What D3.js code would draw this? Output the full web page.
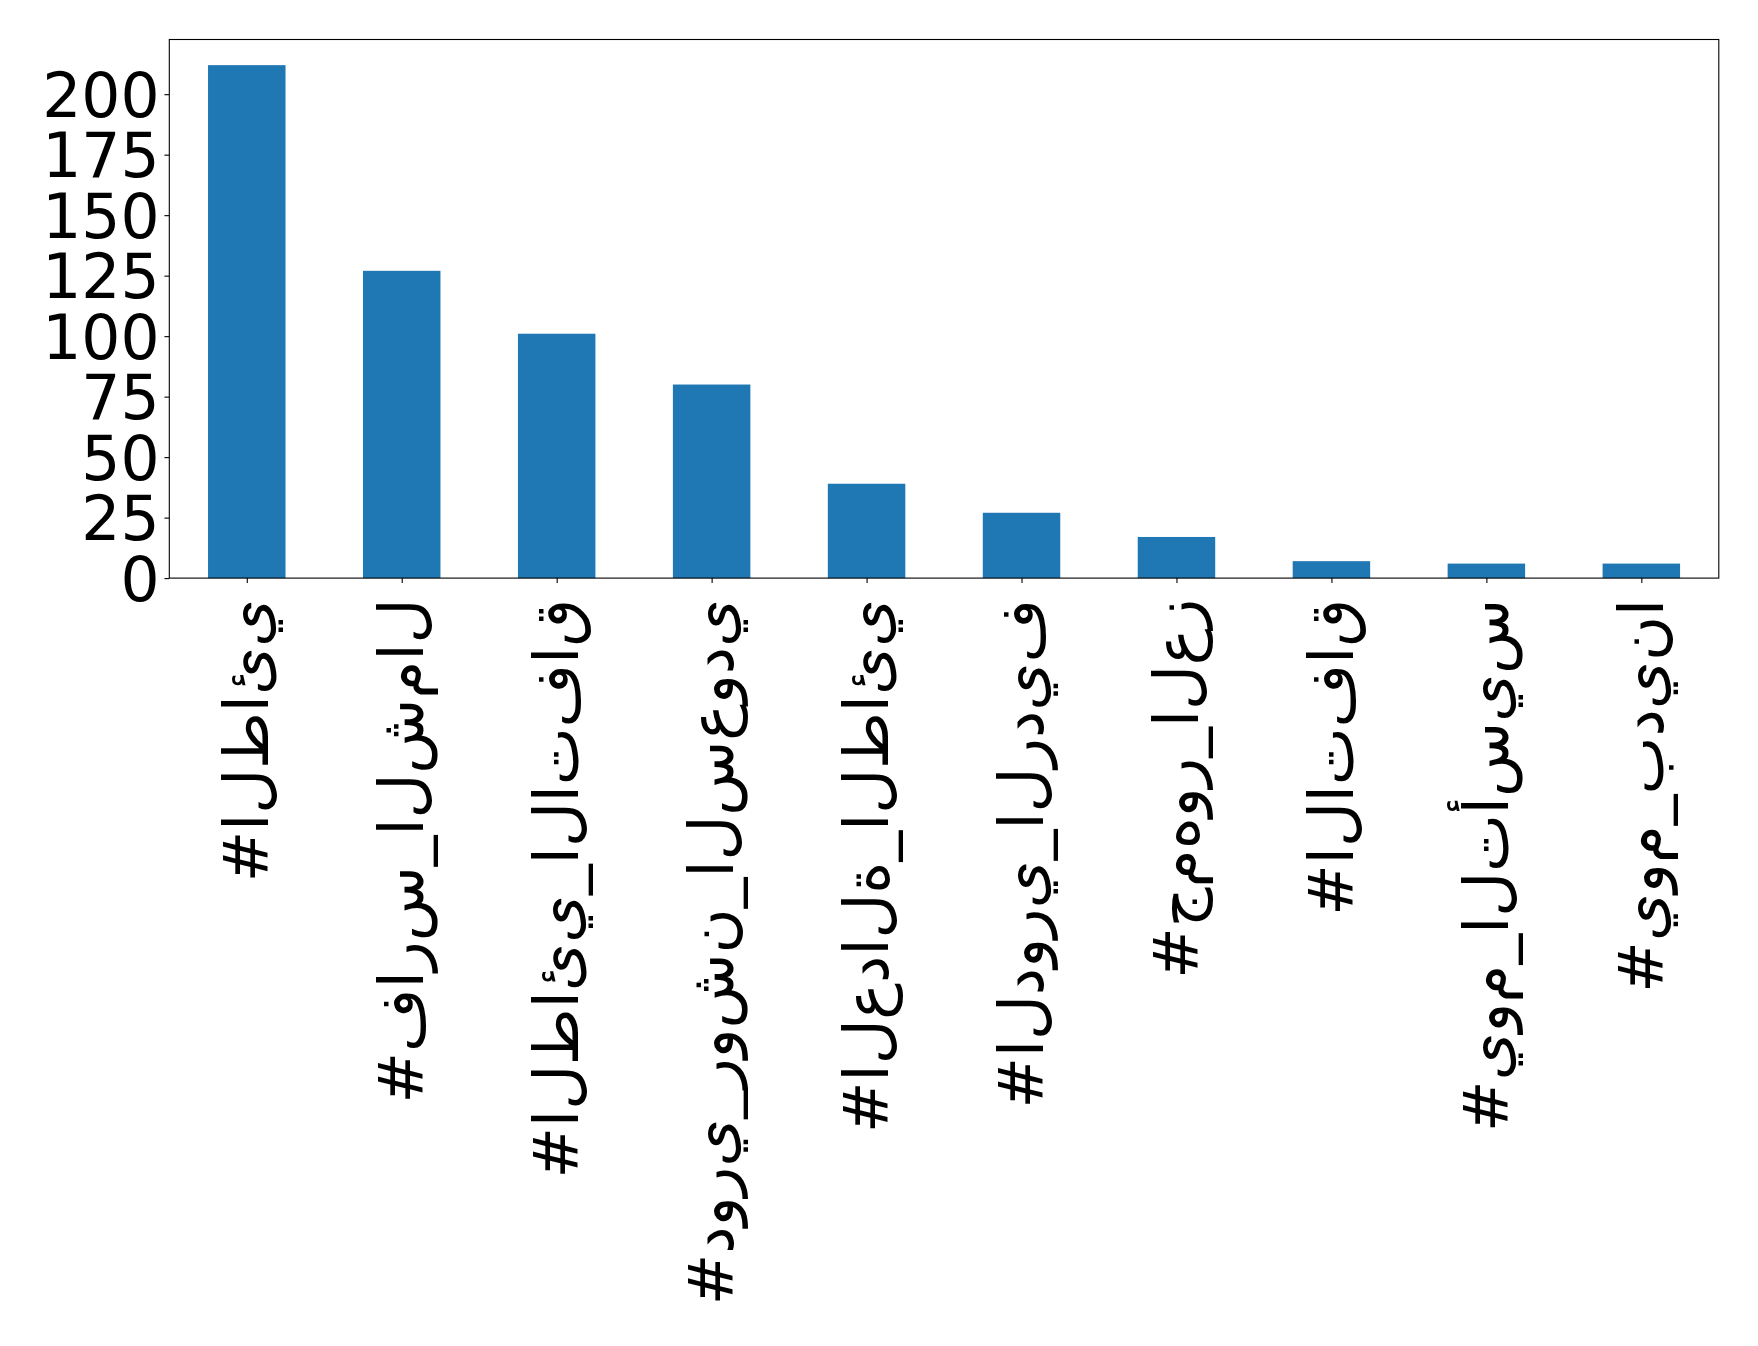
<!DOCTYPE html>
<html>
<head>
<meta charset="utf-8">
<script src="https://cdn.jsdelivr.net/npm/d3@7"></script>
<style>
  html, body { margin: 0; padding: 0; background: #ffffff; }
  svg { display: block; }
</style>
</head>
<body>
<svg id="chart" width="1758" height="1346"></svg>
<script>
const categories = [
  "#الطائي",
  "#فارس_الشمال",
  "#الطائي_الاتفاق",
  "#دوري_روشن_السعودي",
  "#العدالة_الطائي",
  "#الدوري_الرديف",
  "#جمهور_العز",
  "#الاتفاق",
  "#يوم_التأسيس",
  "#يوم_بدينا"
];
const counts = [212, 127, 101, 80, 39, 27, 17, 7, 6, 6];
const yTicks = [0, 25, 50, 75, 100, 125, 150, 175, 200];

(function () {
const svg = d3.select("#chart");
const mLeft = 169.3, mRight = 1718.8, mTop = 39.5, mBottom = 578.1;
const fontSize = 61.5;
const tickLen = 4.86, pad = 4.86;

const x = d3.scaleLinear().domain([-0.5, categories.length - 0.5]).range([mLeft, mRight]);
const y = d3.scaleLinear().domain([0, d3.max(counts) * 1.05]).range([mBottom, mTop]);
const barW = 0.5;

// bars
svg.append("g").selectAll("rect").data(counts).join("rect")
  .attr("x", (d, i) => x(i - barW / 2))
  .attr("width", (d, i) => x(i + barW / 2) - x(i - barW / 2))
  .attr("y", d => y(d))
  .attr("height", d => y(0) - y(d))
  .attr("fill", "#1f77b4");

// y axis
const yAxis = d3.axisLeft(y).tickValues(yTicks).tickSize(tickLen).tickPadding(pad).tickFormat(d3.format("d"));
const gy = svg.append("g").attr("transform", `translate(${mLeft},0)`).call(yAxis);
gy.select(".domain").remove();
gy.selectAll(".tick line").attr("stroke", "#000").attr("stroke-width", 1.1);
gy.selectAll(".tick text")
  .attr("font-family", "'DejaVu Sans', sans-serif")
  .attr("font-size", fontSize)
  .attr("fill", "#000")
  .attr("dy", "0.36em");

// x axis (ticks at category centres)
const idx = d3.range(categories.length);
const xAxis = d3.axisBottom(x).tickValues(idx).tickSize(tickLen).tickPadding(pad)
  .tickFormat(i => categories[i]);
const gx = svg.append("g").attr("transform", `translate(0,${mBottom})`).call(xAxis);
gx.select(".domain").remove();
gx.selectAll(".tick line").attr("stroke", "#000").attr("stroke-width", 1.1);
// render like the original: characters unjoined, left-to-right, rotated 90°
const unjoined = s => "\u202D" + Array.from(s).join("\u200C") + "\u202C";
gx.selectAll(".tick text")
  .text(i => unjoined(categories[i]))
  .attr("font-family", "'DejaVu Sans', sans-serif")
  .attr("font-size", fontSize)
  .attr("letter-spacing", "1.2px")
  .attr("fill", "#000")
  .attr("text-anchor", "end")
  .attr("dominant-baseline", "central")
  .attr("y", null)
  .attr("dy", null)
  .attr("transform", `translate(0,${tickLen + pad + 11}) rotate(-90)`);

// frame
svg.append("rect")
  .attr("x", mLeft).attr("y", mTop)
  .attr("width", mRight - mLeft).attr("height", mBottom - mTop)
  .attr("fill", "none").attr("stroke", "#000").attr("stroke-width", 1.1);
})();
</script>
</body>
</html>
